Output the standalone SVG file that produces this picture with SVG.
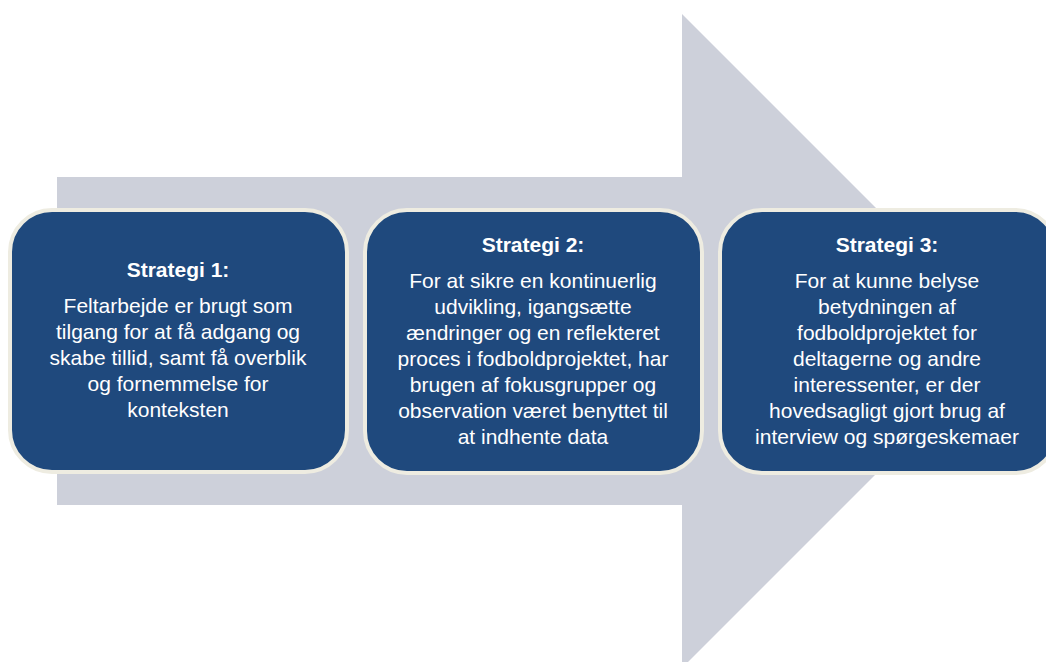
<svg xmlns="http://www.w3.org/2000/svg" width="1046" height="662" viewBox="0 0 1046 662">
<style>
.box{fill:#1F497D;stroke:#EEECE1;stroke-width:4}
.t{font-family:"Liberation Sans",Arial,sans-serif;font-size:21px;fill:#FFFFFF;text-anchor:middle}
.h{font-weight:bold}
</style>
<rect width="1046" height="662" fill="#FFFFFF"/>
<g id="arrow">
<polygon points="57,177 682,177 682,14 1009,341 682,668 682,505 57,505" fill="#CDD0DA"/>
</g>
<g id="connectors"></g>
<g id="strategi1">
<rect class="box" x="10" y="210" width="337" height="262" rx="42"/>
<text class="t h" x="178" y="277">Strategi 1:</text>
<text class="t" x="178" y="313">Feltarbejde er brugt som</text>
<text class="t" x="178" y="339">tilgang for at få adgang og</text>
<text class="t" x="178" y="365">skabe tillid, samt få overblik</text>
<text class="t" x="178" y="391">og fornemmelse for</text>
<text class="t" x="178" y="417">konteksten</text>
</g>
<g id="strategi2">
<rect class="box" x="365" y="210" width="337" height="263" rx="42"/>
<text class="t h" x="533" y="252">Strategi 2:</text>
<text class="t" x="533" y="288">For at sikre en kontinuerlig</text>
<text class="t" x="533" y="314">udvikling, igangsætte</text>
<text class="t" x="533" y="340">ændringer og en reflekteret</text>
<text class="t" x="533" y="366">proces i fodboldprojektet, har</text>
<text class="t" x="533" y="392">brugen af fokusgrupper og</text>
<text class="t" x="533" y="418">observation været benyttet til</text>
<text class="t" x="533" y="444">at indhente data</text>
</g>
<g id="strategi3">
<rect class="box" x="720" y="210" width="337" height="263" rx="42"/>
<text class="t h" x="887" y="252">Strategi 3:</text>
<text class="t" x="887" y="288">For at kunne belyse</text>
<text class="t" x="887" y="314">betydningen af</text>
<text class="t" x="887" y="340">fodboldprojektet for</text>
<text class="t" x="887" y="366">deltagerne og andre</text>
<text class="t" x="887" y="392">interessenter, er der</text>
<text class="t" x="887" y="418">hovedsagligt gjort brug af</text>
<text class="t" x="887" y="444">interview og spørgeskemaer</text>
</g>
</svg>
